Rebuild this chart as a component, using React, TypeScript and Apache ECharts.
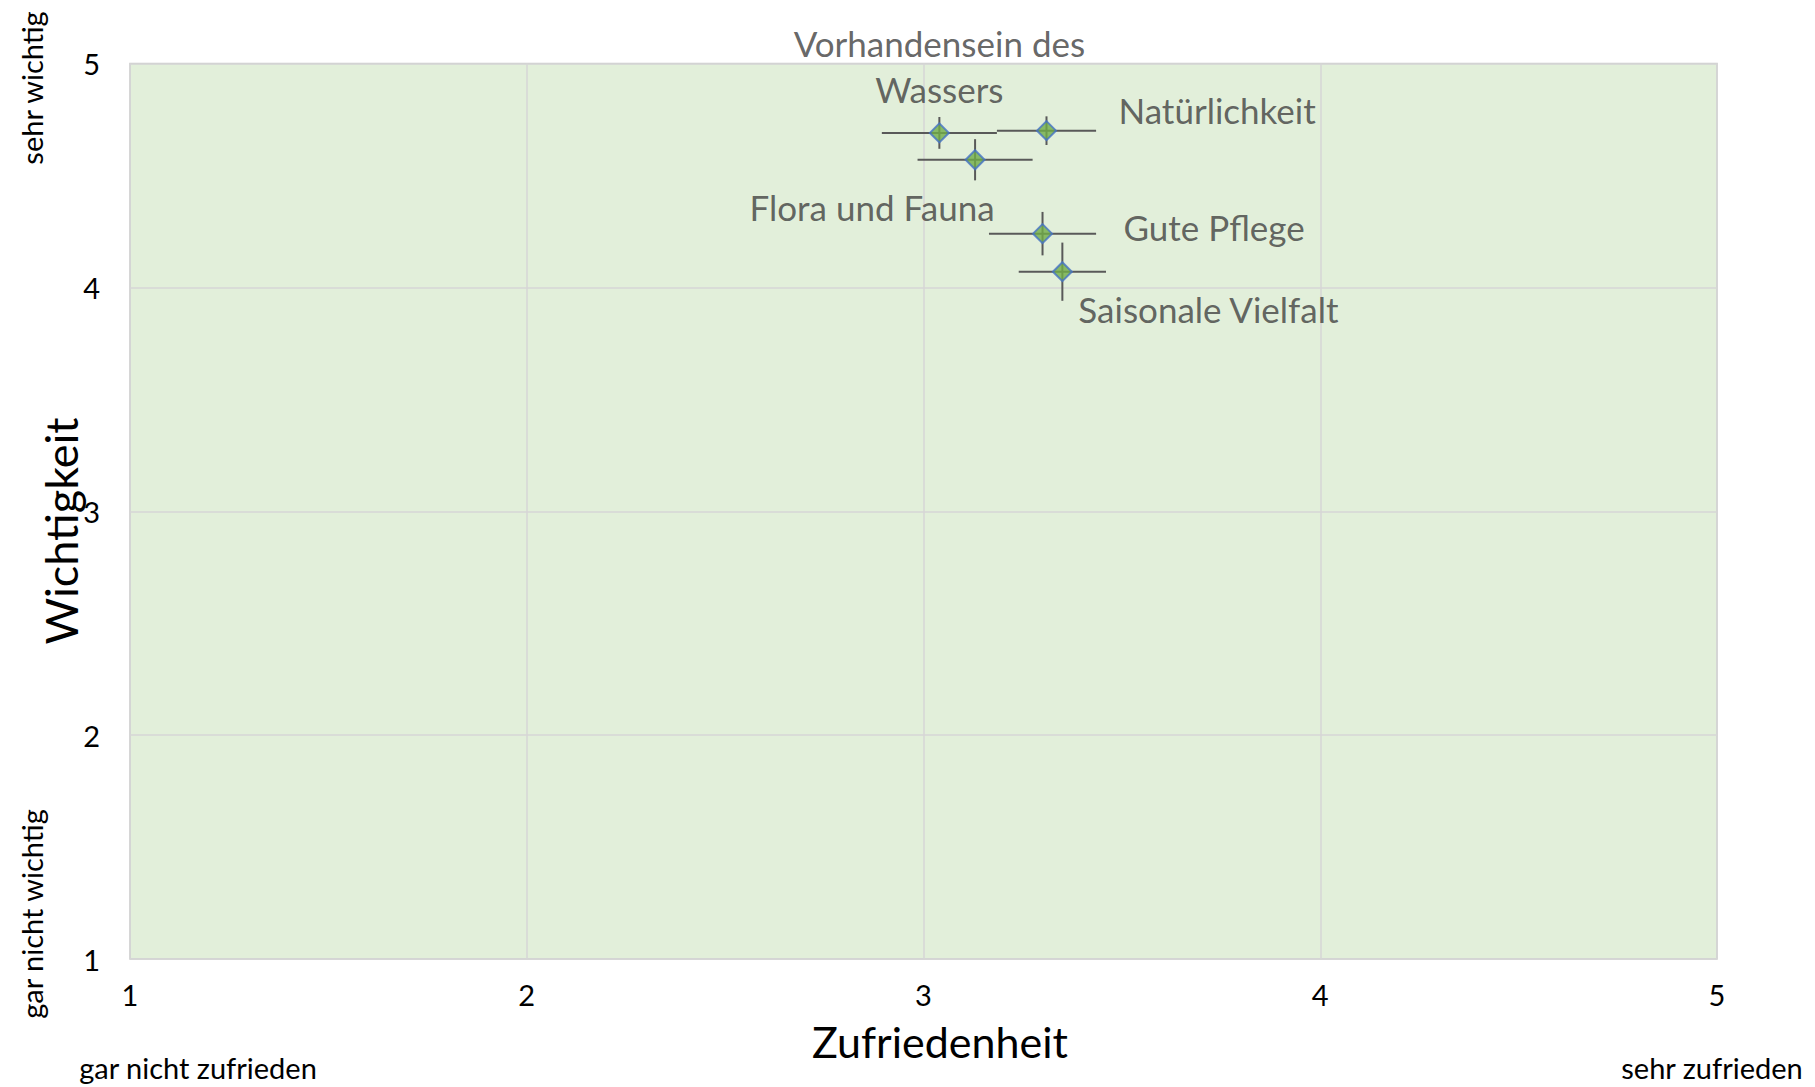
import React, { useEffect, useRef } from "react";
import * as echarts from "echarts";

const categories = [
  "Vorhandensein des\nWassers",
  "Natürlichkeit",
  "Flora und Fauna",
  "Gute Pflege",
  "Saisonale Vielfalt",
];
const satisfaction = [3.04, 3.31, 3.13, 3.3, 3.35];
const importance = [4.69, 4.7, 4.57, 4.24, 4.07];
const satisfactionErr = [0.145, 0.125, 0.145, 0.135, 0.11];
const importanceErr = [0.071, 0.064, 0.092, 0.097, 0.13];

const axisMin = 1;
const axisMax = 5;
const axisStep = 1;

const xTitle = "Zufriedenheit";
const yTitle = "Wichtigkeit";
const xLowLabel = "gar nicht zufrieden";
const xHighLabel = "sehr zufrieden";
const yLowLabel = "gar nicht wichtig";
const yHighLabel = "sehr wichtig";

// label placement relative to each marker (layout, not data)
const labelLayout = [
  { align: "center", offset: [0, -67] },
  { align: "left", offset: [72, -21] },
  { align: "center", offset: [-103, 47] },
  { align: "left", offset: [81, -7] },
  { align: "left", offset: [16, 37] },
];

const FONT = "Lato, 'Open Sans', sans-serif";

export default function App() {
  const ref = useRef<HTMLDivElement>(null);

  useEffect(() => {
    if (!ref.current) return;
    const chart = echarts.init(ref.current, undefined, { renderer: "svg" });

    const scatterData = categories.map((name, i) => ({
      name,
      value: [satisfaction[i], importance[i]],
      label: {
        align: labelLayout[i].align,
        offset: labelLayout[i].offset,
      },
    }));
    const errData = categories.map((name, i) => [
      satisfaction[i],
      importance[i],
      satisfactionErr[i],
      importanceErr[i],
    ]);

    const option: any = {
      animation: false,
      backgroundColor: "#ffffff",
      textStyle: { fontFamily: FONT },
      grid: {
        left: 130,
        top: 63.5,
        right: 98,
        bottom: 128,
        show: true,
        backgroundColor: "#E2EFDA",
        borderColor: "#C9C9C9",
        borderWidth: 1.5,
      },
      xAxis: {
        type: "value",
        min: axisMin,
        max: axisMax,
        interval: axisStep,
        axisLine: { show: false },
        axisTick: { show: false },
        splitLine: { show: true, lineStyle: { color: "#D6D6D6", width: 1.5 } },
        axisLabel: {
          color: "#000000",
          fontSize: 29,
          fontFamily: FONT,
          margin: 21,
          lineHeight: 29,
        },
      },
      yAxis: {
        type: "value",
        min: axisMin,
        max: axisMax,
        interval: axisStep,
        axisLine: { show: false },
        axisTick: { show: false },
        splitLine: { show: true, lineStyle: { color: "#D6D6D6", width: 1.5 } },
        axisLabel: {
          color: "#000000",
          fontSize: 29,
          fontFamily: FONT,
          margin: 30,
        },
      },
      series: [
        {
          type: "custom",
          name: "Fehlerbalken",
          z: 2,
          data: errData,
          renderItem: (params: any, api: any) => {
            const x = api.value(0);
            const y = api.value(1);
            const ex = api.value(2);
            const ey = api.value(3);
            const l = api.coord([x - ex, y]);
            const r = api.coord([x + ex, y]);
            const t = api.coord([x, y + ey]);
            const b = api.coord([x, y - ey]);
            const style = { stroke: "#595959", lineWidth: 2 };
            return {
              type: "group",
              children: [
                { type: "line", shape: { x1: l[0], y1: l[1], x2: r[0], y2: r[1] }, style },
                { type: "line", shape: { x1: t[0], y1: t[1], x2: b[0], y2: b[1] }, style },
              ],
            };
          },
        },
        {
          type: "scatter",
          name: "Kriterien",
          z: 3,
          symbol: "diamond",
          symbolSize: 19,
          itemStyle: {
            color: "#70AD47",
            borderColor: "#4472C4",
            borderWidth: 2,
          },
          label: {
            show: true,
            position: "inside",
            verticalAlign: "middle",
            formatter: (p: any) => p.name,
            color: "#404040",
            fontSize: 35,
            lineHeight: 46,
            fontFamily: FONT,
          },
          data: scatterData,
        },
      ],
      graphic: [
        {
          type: "text",
          x: 940,
          y: 1041,
          style: {
            text: xTitle,
            fontSize: 43,
            fontFamily: FONT,
            fill: "#000000",
            textAlign: "center",
            textVerticalAlign: "middle",
          },
        },
        {
          type: "text",
          x: 61,
          y: 531,
          rotation: Math.PI / 2,
          style: {
            text: yTitle,
            fontSize: 45,
            fontFamily: FONT,
            fill: "#000000",
            textAlign: "center",
            textVerticalAlign: "middle",
          },
        },
        {
          type: "text",
          x: 198,
          y: 1067,
          style: {
            text: xLowLabel,
            fontSize: 29,
            fontFamily: FONT,
            fill: "#000000",
            textAlign: "center",
            textVerticalAlign: "middle",
          },
        },
        {
          type: "text",
          x: 1712,
          y: 1067,
          style: {
            text: xHighLabel,
            fontSize: 29,
            fontFamily: FONT,
            fill: "#000000",
            textAlign: "center",
            textVerticalAlign: "middle",
          },
        },
        {
          type: "text",
          x: 31,
          y: 914,
          rotation: Math.PI / 2,
          style: {
            text: yLowLabel,
            fontSize: 29,
            fontFamily: FONT,
            fill: "#000000",
            textAlign: "center",
            textVerticalAlign: "middle",
          },
        },
        {
          type: "text",
          x: 31,
          y: 88,
          rotation: Math.PI / 2,
          style: {
            text: yHighLabel,
            fontSize: 29,
            fontFamily: FONT,
            fill: "#000000",
            textAlign: "center",
            textVerticalAlign: "middle",
          },
        },
      ],
    };

    chart.setOption(option);
    return () => {
      chart.dispose();
    };
  }, []);

  return (
    <div
      ref={ref}
      style={{ position: "fixed", left: 0, top: 0, width: 1815, height: 1087 }}
    />
  );
}
